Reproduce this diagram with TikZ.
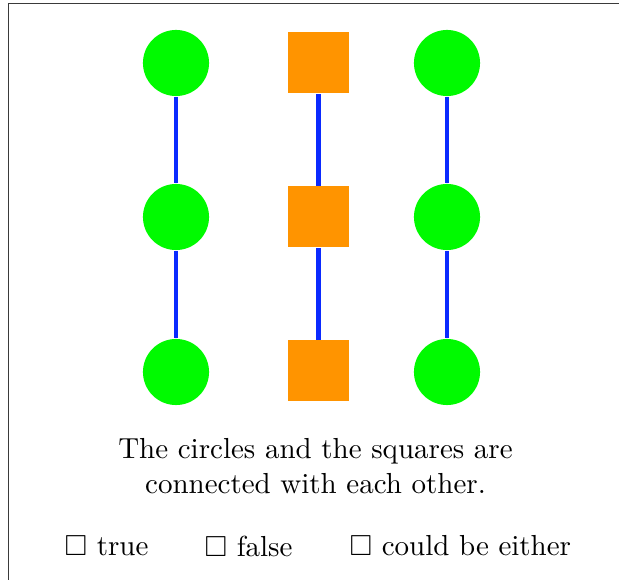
\documentclass[tikz,border=0pt]{standalone}
\usepackage{amsmath,amssymb}
\usepackage{xcolor}
\usepackage{tikz}
\usetikzlibrary{positioning}
\definecolor{cGreen}{HTML}{00FA00}
\definecolor{cOrange}{HTML}{FF9400}
\definecolor{cBlue}{HTML}{0A2AFF}
\definecolor{cFrame}{HTML}{3A3A3A}
\tikzset{
  dot/.style={circle,fill=cGreen,draw=none,minimum size=22.8pt,inner sep=0pt},
  sq/.style={rectangle,fill=cOrange,draw=none,minimum size=21.05pt,inner sep=0pt},
  link/.style={draw=cBlue,line width=1.5pt},
  txt/.style={align=center,font=\normalsize,inner sep=0pt},
  opt/.style={anchor=west,font=\normalsize,inner sep=0pt},
}

\begin{document}
\begin{tikzpicture}[x=0.345pt,y=-0.345pt]
    \useasboundingbox (0,0) rectangle (619,580);
    \draw[cFrame,line width=0.6pt] (8.5,580) -- (8.5,3.5) -- (619,3.5);
    % left column
    \node[dot] (l1) at (176,63) {};
    \node[dot] (l2) at (176,217) {};
    \node[dot] (l3) at (176,372) {};
    % middle column
    \node[sq] (m1) at (318.5,63) {};
    \node[sq] (m2) at (318.5,217) {};
    \node[sq] (m3) at (318.5,371) {};
    % right column
    \node[dot] (r1) at (447,63) {};
    \node[dot] (r2) at (447,217) {};
    \node[dot] (r3) at (447,372) {};
    \draw[link] (l1) -- (l2);
    \draw[link] (l2) -- (l3);
    \draw[link] (m1) -- (m2);
    \draw[link] (m2) -- (m3);
    \draw[link] (r1) -- (r2);
    \draw[link] (r2) -- (r3);
    \node[txt] (q) at (315.5,466) {The circles and the squares are\\ connected with each other.};
    \node[opt] (a1) at (64,546) {$\square$ true};
    \node[opt] (a2) at (204,546) {$\square$ false};
    \node[opt] (a3) at (349,546) {$\square$ could be either};
  \end{tikzpicture}
\end{document}
